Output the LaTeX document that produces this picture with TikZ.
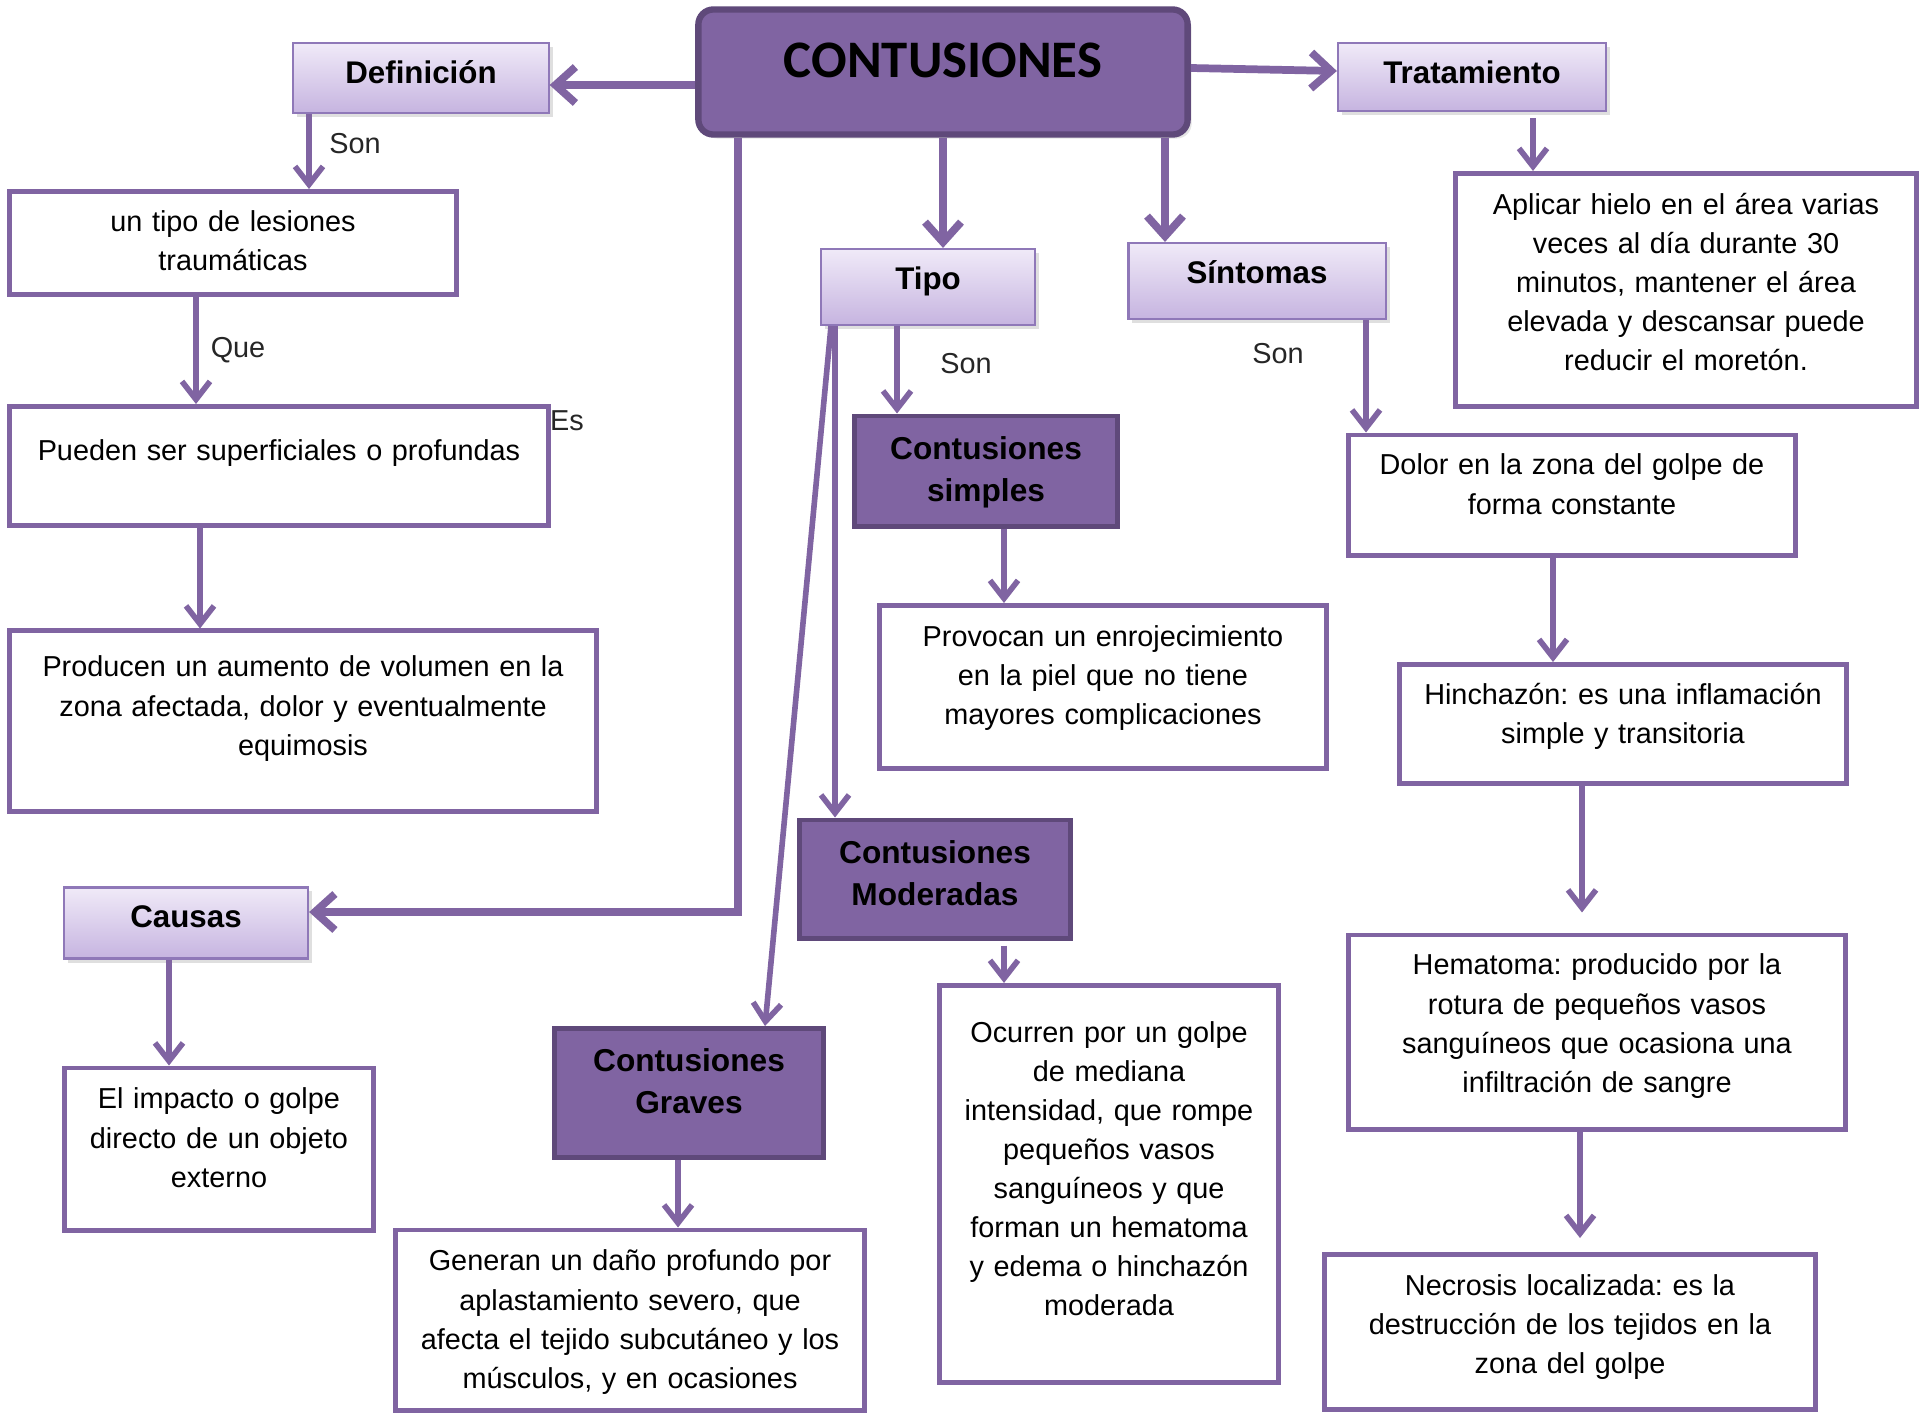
\documentclass[tikz,border=0pt]{standalone}
\usepackage{fontspec}
\setmainfont{Liberation Sans}
\newfontfamily\titlefont{Carlito}
\usetikzlibrary{arrows.meta,shadows}
\frenchspacing
\definecolor{purp}{HTML}{8064A2}
\definecolor{purpdark}{HTML}{5F497A}
\definecolor{lavtop}{HTML}{F0EAF8}
\definecolor{lavbot}{HTML}{C6B4E0}
\definecolor{lavline}{HTML}{8F78B8}
\definecolor{lbltext}{HTML}{262626}
\tikzset{
    box/.style={draw=purp, line width=1.4pt, fill=white, inner sep=0pt, align=center, font=\fontsize{8.2}{11.1}\selectfont},
    head/.style={draw=lavline, line width=0.6pt, top color=lavtop, bottom color=lavbot, inner sep=0pt, align=center, font=\bfseries\fontsize{8.9}{12}\selectfont, text height=0.40cm, drop shadow={opacity=0.25, shadow xshift=0.04cm, shadow yshift=-0.04cm}},
    kind/.style={draw=purpdark, line width=1.4pt, fill=purp, inner sep=0pt, align=center, font=\bfseries\fontsize{9}{12}\selectfont, text height=0.43cm},
    lbl/.style={text=lbltext, font=\fontsize{8.2}{10}\selectfont},
    arr/.style={draw=purp, line width=1.6pt, -{Straight Barb[length=1.8mm,width=2.8mm]}},
    bigarr/.style={draw=purp, line width=2.2pt, -{Straight Barb[length=2mm,width=3.6mm]}}
}
\begin{document}
\begin{tikzpicture}[x=0.01cm, y=-0.01cm]
    \useasboundingbox[fill=white] (0,0) rectangle (1925,1412);
    \node[draw=purpdark, line width=1.8pt, fill=purp, rounded corners=0.15cm, inner sep=0pt, text width=4.89cm, align=center, text height=0.68cm, text depth=0.57cm, font=\titlefont\bfseries\fontsize{15}{18}\selectfont, drop shadow={opacity=0.2, shadow xshift=0.04cm, shadow yshift=-0.04cm}] (main) at (943,72) {CONTUSIONES};

    \node[head, text width=2.55cm, text depth=0.30cm] (def) at (421,78) {Definición};
    \node[head, text width=2.68cm, text depth=0.28cm] (trat) at (1472,77) {Tratamiento};
    \node[head, text width=2.14cm, text depth=0.36cm] (tipo) at (928,287) {Tipo};
    \node[head, text width=2.57cm, text depth=0.36cm] (sint) at (1257,281) {Síntomas};
    \node[head, text width=2.44cm, text depth=0.31cm] (causas) at (186,923) {Causas};

    \node[kind, text width=2.63cm, text depth=0.67cm] (simp) at (986,471) {Contusiones\\simples};
    \node[kind, text width=2.70cm, text depth=0.75cm] (mod) at (935,879) {Contusiones\\Moderadas};
    \node[kind, text width=2.68cm, text depth=0.86cm] (grav) at (689,1093) {Contusiones\\Graves};

    \node[box, text width=4.46cm, text height=0.40cm, text depth=0.63cm] (a) at (233,243) {un tipo de lesiones\\traumáticas};
    \node[box, text width=5.39cm, text height=0.54cm, text depth=0.65cm] (b) at (279,466) {Pueden ser superficiales o profundas};
    \node[box, text width=5.86cm, text height=0.46cm, text depth=1.34cm] (c) at (303,721) {Producen un aumento de volumen en la\\zona afectada, dolor y eventualmente\\equimosis};
    \node[box, text width=3.09cm, text height=0.41cm, text depth=1.21cm] (d) at (219,1149) {El impacto o golpe\\directo de un objeto\\externo};
    \node[box, text width=4.69cm, text height=0.41cm, text depth=1.39cm] (e) at (630,1320) {Generan un daño profundo por\\aplastamiento severo, que\\afecta el tejido subcutáneo y los\\músculos, y en ocasiones};
    \node[box, text width=4.47cm, text height=0.41cm, text depth=1.22cm] (f) at (1103,687) {Provocan un enrojecimiento\\en la piel que no tiene\\mayores complicaciones};
    \node[box, text width=3.38cm, text height=0.57cm, text depth=3.40cm] (g) at (1109,1184) {Ocurren por un golpe\\de mediana\\intensidad, que rompe\\pequeños vasos\\sanguíneos y que\\forman un hematoma\\y edema o hinchazón\\moderada};
    \node[box, text width=4.60cm, text height=0.41cm, text depth=1.92cm] (h) at (1686,290) {Aplicar hielo en el área varias\\veces al día durante 30\\minutos, mantener el área\\elevada y descansar puede\\reducir el moretón.};
    \node[box, text width=4.46cm, text height=0.40cm, text depth=0.80cm] (i) at (1572,495) {Dolor en la zona del golpe de\\forma constante};
    \node[box, text width=4.47cm, text height=0.40cm, text depth=0.79cm] (j) at (1623,724) {Hinchazón: es una inflamación\\simple y transitoria};
    \node[box, text width=4.96cm, text height=0.40cm, text depth=1.54cm] (k) at (1597,1032) {Hematoma: producido por la\\rotura de pequeños vasos\\sanguíneos que ocasiona una\\infiltración de sangre};
    \node[box, text width=4.91cm, text height=0.41cm, text depth=1.14cm] (l) at (1570,1332) {Necrosis localizada: es la\\destrucción de los tejidos en la\\zona del golpe};

    \node[lbl] (son1) at (355,144) {Son};
    \node[lbl] (que) at (238,350) {Que};
    \node[lbl] (es) at (567,421) {Es};
    \node[lbl] (son2) at (966,364) {Son};
    \node[lbl] (son3) at (1278,354) {Son};

    \draw[bigarr] (main.west |- 0,85) -- (def.east |- 0,85);
    \draw[bigarr] (main.east |- 0,68) -- (trat.west |- 0,71);
    \draw[bigarr] (main.south) -- (main.south |- tipo.north);
    \draw[bigarr] (1165,0 |- main.south) -- (1165,0 |- sint.north);
    \draw[bigarr] (738,0 |- main.south) |- (causas.east |- 0,912);
    \draw[arr] (309,0 |- def.south) -- (309,0 |- a.north);
    \draw[arr] (196,0 |- a.south) -- (196,0 |- b.north);
    \draw[arr] (200,0 |- b.south) -- (200,0 |- c.north);
    \draw[arr] (169,0 |- causas.south) -- (169,0 |- d.north);
    \draw[arr] (897,0 |- tipo.south) -- (897,0 |- simp.north);
    \draw[arr] (835,0 |- tipo.south) -- (835,0 |- mod.north);
    \draw[arr] (831,0 |- tipo.south) -- (765,0 |- grav.north);
    \draw[arr] (1004,0 |- simp.south) -- (1004,0 |- f.north);
    \draw[arr, shorten <=0.05cm] (1004,0 |- mod.south) -- (1004,0 |- g.north);
    \draw[arr] (678,0 |- grav.south) -- (678,0 |- e.north);
    \draw[arr, shorten <=0.06cm] (1533,0 |- trat.south) -- (1533,0 |- h.north);
    \draw[arr] (1366,0 |- sint.south) -- (1366,0 |- i.north);
    \draw[arr] (1553,0 |- i.south) -- (1553,0 |- j.north);
    \draw[arr, shorten >=0.2cm] (1582,0 |- j.south) -- (1582,0 |- k.north);
    \draw[arr, shorten >=0.14cm] (1580,0 |- k.south) -- (1580,0 |- l.north);
\end{tikzpicture}
\end{document}
